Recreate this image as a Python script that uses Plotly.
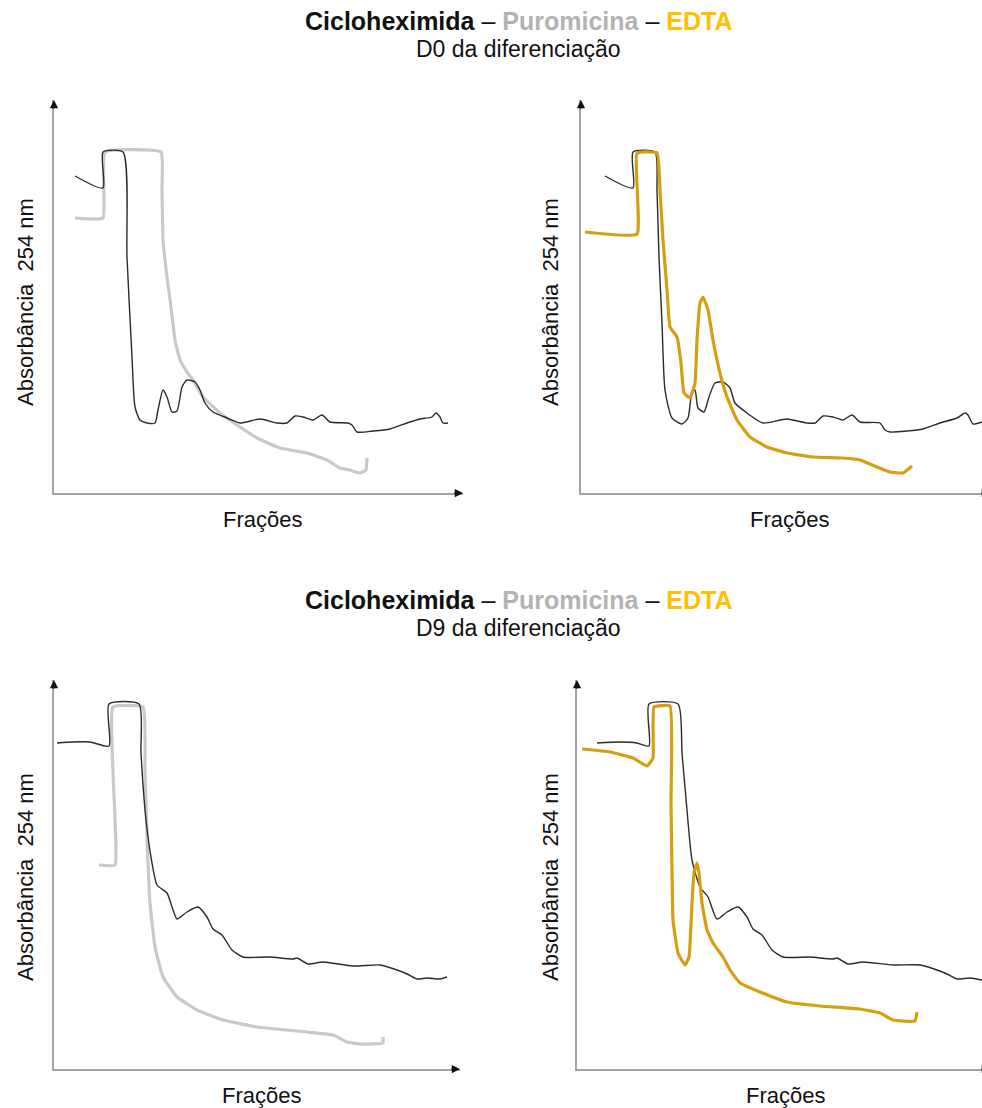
import plotly.graph_objects as go

# ---------------- data (x: fraction position, y: absorbance, arbitrary units) -------------
# Panel 1: D0 – Cicloheximida vs Puromicina
d0_chx_x = [21, 49, 49, 69, 73, 78, 81, 86, 93, 101, 104, 109, 113, 118, 123, 128, 133, 141, 146, 151,
            159, 173, 186, 206, 223, 233, 241, 249, 259, 268, 276, 294, 298, 303, 319, 336, 353, 366, 378, 382,
            386, 389, 394]
d0_chx_y = [317, 305, 341, 341, 236, 136, 86, 73, 70, 70, 83, 103, 96, 81, 82, 106, 113, 111, 103, 90,
            81, 75, 70, 74, 70, 70, 77, 76, 73, 78, 71, 70, 68, 61, 62, 64, 70, 74, 76, 80,
            76, 70, 70]
d0_puro_x = [21, 49, 51, 107, 108, 109, 113, 117, 121, 126, 133, 139, 149, 166, 186, 203, 226, 253, 273, 286,
             296, 306, 312, 313]
d0_puro_y = [275, 275, 341, 341, 303, 253, 216, 186, 153, 133, 121, 113, 96, 80, 66, 55, 45, 40, 33, 25,
             23, 20, 23, 35]

# Panel 2: D0 – Cicloheximida vs EDTA
d0b_chx_x = [24, 52, 52, 74, 76, 78, 81, 84, 91, 101, 107, 111, 114, 117, 123, 128, 134, 142, 149, 154,
             166, 182, 206, 226, 234, 242, 252, 262, 271, 279, 299, 304, 309, 326, 342, 359, 376, 384, 387, 392, 401]
d0b_chx_y = [317, 305, 341, 341, 303, 236, 170, 103, 75, 69, 75, 101, 103, 85, 81, 96, 110, 111, 105, 90,
             80, 70, 74, 70, 70, 77, 76, 73, 78, 71, 70, 63, 61, 62, 64, 70, 75, 80, 78, 69, 71]
d0_edta_x = [4, 56, 56, 76, 79, 82, 86, 89, 96, 100, 103, 109, 114, 116, 119, 122, 127, 132, 139, 146,
             156, 169, 186, 206, 232, 262, 279, 296, 309, 322, 331]
d0_edta_y = [261, 259, 340, 340, 303, 253, 203, 166, 156, 130, 100, 95, 110, 153, 190, 196, 183, 153, 120, 96,
             73, 56, 46, 40, 36, 35, 33, 26, 21, 20, 27]

# Panel 3: D9 – Cicloheximida vs Puromicina
d9_chx_x = [3, 19, 36, 55, 55, 85, 87, 92, 98, 103, 113, 118, 123, 133, 144, 153, 159, 168, 178, 189,
            216, 239, 243, 254, 269, 299, 326, 343, 353, 363, 373, 386, 393]
d9_chx_y = [326, 327, 327, 323, 365, 365, 316, 249, 206, 184, 176, 162, 150, 157, 162, 152, 140, 134, 119, 112,
            112, 110, 111, 105, 107, 103, 104, 99, 95, 90, 91, 90, 92]
d9_puro_x = [45, 61, 59, 89, 91, 93, 96, 101, 109, 123, 143, 169, 203, 253, 279, 293, 306, 329, 329]
d9_puro_y = [204, 204, 362, 362, 299, 232, 166, 122, 92, 72, 59, 49, 42, 37, 34, 27, 25, 26, 32]

# Panel 4: D9 – Cicloheximida vs EDTA
d9b_chx_x = [20, 43, 60, 72, 72, 101, 105, 110, 115, 123, 131, 140, 150, 161, 170, 176, 185, 195, 206, 233,
             256, 260, 271, 286, 316, 343, 360, 370, 380, 393, 405]
d9b_chx_y = [326, 327, 326, 323, 365, 365, 316, 259, 209, 182, 172, 150, 157, 162, 152, 140, 134, 119, 112, 112,
             110, 111, 105, 107, 104, 104, 99, 95, 90, 91, 89]
d9_edta_x = [5, 33, 56, 70, 76, 77, 93, 94, 95, 96, 101, 108, 112, 115, 117, 120, 122, 125, 130, 136,
             146, 153, 163, 183, 210, 243, 283, 303, 316, 338, 340]
d9_edta_y = [320, 317, 311, 303, 311, 362, 363, 266, 199, 149, 116, 104, 112, 166, 196, 206, 196, 166, 139, 126,
             112, 99, 86, 77, 67, 63, 60, 56, 49, 48, 57]

# ---------------- styling ----------------
W, H = 982, 1108
C_CHX = "#2b2b2b"
C_PURO = "#c9c9c9"
C_EDTA = "#d4a012"
FONT = "Liberation Sans, Arial, sans-serif"

# panel geometry in pixels: (left, right, top, bottom)
panels = [
    (54, 463, 100, 493),
    (581, 982, 100, 493),
    (54, 460, 680, 1069),
    (577, 982, 680, 1069),
]

fig = go.Figure()

def chx(x, y, i):
    return go.Scatter(x=x, y=y, mode="lines", line=dict(color=C_CHX, width=1.4, shape="spline", smoothing=0.6),
                      xaxis=f"x{i}", yaxis=f"y{i}", hoverinfo="skip", showlegend=False)

def other(x, y, i, color):
    return go.Scatter(x=x, y=y, mode="lines", line=dict(color=color, width=3.2, shape="spline", smoothing=0.35),
                      xaxis=f"x{i}", yaxis=f"y{i}", hoverinfo="skip", showlegend=False)

fig.add_trace(other(d0_puro_x, d0_puro_y, "", C_PURO))
fig.add_trace(chx(d0_chx_x, d0_chx_y, ""))
fig.add_trace(chx(d0b_chx_x, d0b_chx_y, "2"))
fig.add_trace(other(d0_edta_x, d0_edta_y, "2", C_EDTA))
fig.add_trace(other(d9_puro_x, d9_puro_y, "3", C_PURO))
fig.add_trace(chx(d9_chx_x, d9_chx_y, "3"))
fig.add_trace(chx(d9b_chx_x, d9b_chx_y, "4"))
fig.add_trace(other(d9_edta_x, d9_edta_y, "4", C_EDTA))

layout = dict(width=W, height=H, margin=dict(l=0, r=0, t=0, b=0),
              paper_bgcolor="white", plot_bgcolor="white", showlegend=False)
annotations = []
for k, (l, r, t, b) in enumerate(panels):
    idx = "" if k == 0 else str(k + 1)
    wx, hy = r - l, b - t
    common = dict(showgrid=False, zeroline=False, showticklabels=False, ticks="",
                  showline=True, linecolor="#a3a3a3", linewidth=1.5, fixedrange=True)
    layout[f"xaxis{idx}"] = dict(domain=[l / W, r / W], range=[0, wx], anchor=f"y{idx}", **common)
    layout[f"yaxis{idx}"] = dict(domain=[1 - b / H, 1 - t / H], range=[0, hy], anchor=f"x{idx}", **common)
    xr, yr = f"x{idx}", f"y{idx}"
    # arrow heads
    tipx = wx if k in (0, 2) else wx + 8
    annotations.append(dict(x=tipx, y=0, ax=tipx - 10, ay=0, xref=xr, yref=yr, axref=xr, ayref=yr,
                            showarrow=True, arrowhead=2, arrowsize=1.1, arrowwidth=1.5,
                            arrowcolor="#111111", text=""))
    annotations.append(dict(x=0, y=hy, ax=0, ay=hy - 10, xref=xr, yref=yr, axref=xr, ayref=yr,
                            showarrow=True, arrowhead=2, arrowsize=1.1, arrowwidth=1.5,
                            arrowcolor="#111111", text=""))

# titles
title1 = ("<b>Cicloheximida</b> – <b><span style='color:#b3b3b3'>Puromicina</span></b> – "
          "<b><span style='color:#ffc000'>EDTA</span></b>")
for yc, sub in [(21, "D0 da diferenciação"), (600, "D9 da diferenciação")]:
    annotations.append(dict(x=518 / W, y=1 - yc / H, xref="paper", yref="paper", text=title1,
                            showarrow=False, xanchor="center", yanchor="middle",
                            font=dict(family=FONT, size=25, color="#111111")))
    annotations.append(dict(x=518 / W, y=1 - (yc + 28) / H, xref="paper", yref="paper", text=sub,
                            showarrow=False, xanchor="center", yanchor="middle",
                            font=dict(family=FONT, size=23, color="#111111")))

# axis labels
for xc, yc in [(262, 519), (789, 519), (261, 1095), (785, 1095)]:
    annotations.append(dict(x=xc / W, y=1 - yc / H, xref="paper", yref="paper", text="Frações",
                            showarrow=False, xanchor="center", yanchor="middle",
                            font=dict(family=FONT, size=22, color="#111111")))
for xc, yc in [(25, 302), (550, 302), (25, 877), (550, 877)]:
    annotations.append(dict(x=xc / W, y=1 - yc / H, xref="paper", yref="paper", text="Absorbância  254 nm",
                            showarrow=False, xanchor="center", yanchor="middle", textangle=-90,
                            font=dict(family=FONT, size=22, color="#111111")))

layout["annotations"] = annotations
fig.update_layout(**layout)
fig.write_html("out.html")
